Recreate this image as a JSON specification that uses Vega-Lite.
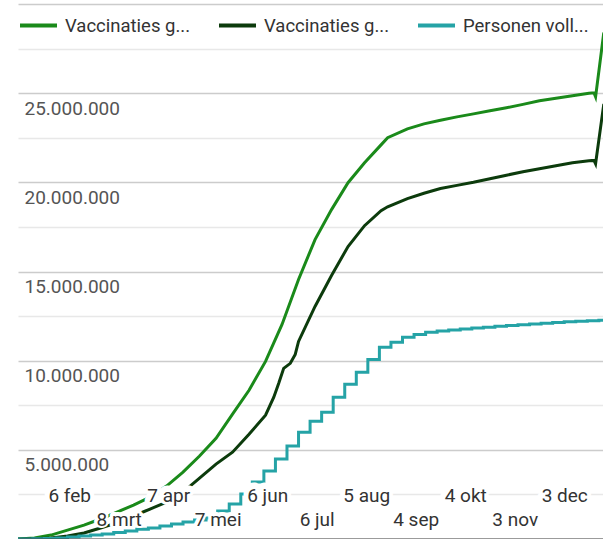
{
  "$schema": "https://vega.github.io/schema/vega-lite/v6.json",
  "width": 585,
  "height": 535,
  "autosize": {"type": "none"},
  "padding": {"left": 18, "top": 4, "right": 0, "bottom": 0},
  "background": "white",
  "config": {"view": {"stroke": null}, "font": "Roboto"},
  "datasets": {
    "g": [
      {"date": "2021-01-06", "value": 0},
      {"date": "2021-01-16", "value": 60000},
      {"date": "2021-01-26", "value": 220000},
      {"date": "2021-02-05", "value": 500000},
      {"date": "2021-02-15", "value": 780000},
      {"date": "2021-02-25", "value": 1120000},
      {"date": "2021-03-07", "value": 1510000},
      {"date": "2021-03-17", "value": 1900000},
      {"date": "2021-03-27", "value": 2350000},
      {"date": "2021-04-06", "value": 2970000},
      {"date": "2021-04-16", "value": 3750000},
      {"date": "2021-04-26", "value": 4650000},
      {"date": "2021-05-06", "value": 5650000},
      {"date": "2021-05-16", "value": 7000000},
      {"date": "2021-05-26", "value": 8340000},
      {"date": "2021-06-05", "value": 9960000},
      {"date": "2021-06-15", "value": 12030000},
      {"date": "2021-06-25", "value": 14550000},
      {"date": "2021-07-05", "value": 16790000},
      {"date": "2021-07-15", "value": 18470000},
      {"date": "2021-07-25", "value": 19980000},
      {"date": "2021-08-04", "value": 21100000},
      {"date": "2021-08-14", "value": 22100000},
      {"date": "2021-08-18", "value": 22500000},
      {"date": "2021-08-30", "value": 23000000},
      {"date": "2021-09-09", "value": 23280000},
      {"date": "2021-09-19", "value": 23480000},
      {"date": "2021-09-29", "value": 23670000},
      {"date": "2021-10-09", "value": 23840000},
      {"date": "2021-10-19", "value": 24010000},
      {"date": "2021-10-29", "value": 24180000},
      {"date": "2021-11-08", "value": 24370000},
      {"date": "2021-11-18", "value": 24570000},
      {"date": "2021-11-28", "value": 24710000},
      {"date": "2021-12-08", "value": 24850000},
      {"date": "2021-12-18", "value": 24990000},
      {"date": "2021-12-21", "value": 25020000},
      {"date": "2021-12-22", "value": 24790000},
      {"date": "2021-12-27", "value": 28400000}
    ],
    "d": [
      {"date": "2021-01-06", "value": 0},
      {"date": "2021-01-16", "value": 20000},
      {"date": "2021-01-26", "value": 60000},
      {"date": "2021-02-05", "value": 170000},
      {"date": "2021-02-15", "value": 340000},
      {"date": "2021-02-25", "value": 620000},
      {"date": "2021-03-07", "value": 900000},
      {"date": "2021-03-17", "value": 1290000},
      {"date": "2021-03-27", "value": 1680000},
      {"date": "2021-04-06", "value": 2070000},
      {"date": "2021-04-16", "value": 2630000},
      {"date": "2021-04-26", "value": 3410000},
      {"date": "2021-05-06", "value": 4200000},
      {"date": "2021-05-16", "value": 4870000},
      {"date": "2021-05-26", "value": 5880000},
      {"date": "2021-06-05", "value": 6940000},
      {"date": "2021-06-10", "value": 7950000},
      {"date": "2021-06-13", "value": 8730000},
      {"date": "2021-06-16", "value": 9570000},
      {"date": "2021-06-20", "value": 9850000},
      {"date": "2021-06-23", "value": 10350000},
      {"date": "2021-06-25", "value": 11080000},
      {"date": "2021-07-05", "value": 13040000},
      {"date": "2021-07-15", "value": 14780000},
      {"date": "2021-07-25", "value": 16400000},
      {"date": "2021-08-04", "value": 17570000},
      {"date": "2021-08-14", "value": 18410000},
      {"date": "2021-08-18", "value": 18630000},
      {"date": "2021-08-30", "value": 19090000},
      {"date": "2021-09-09", "value": 19390000},
      {"date": "2021-09-19", "value": 19650000},
      {"date": "2021-09-29", "value": 19830000},
      {"date": "2021-10-09", "value": 20000000},
      {"date": "2021-10-19", "value": 20200000},
      {"date": "2021-10-29", "value": 20400000},
      {"date": "2021-11-08", "value": 20590000},
      {"date": "2021-11-18", "value": 20760000},
      {"date": "2021-11-28", "value": 20930000},
      {"date": "2021-12-08", "value": 21100000},
      {"date": "2021-12-18", "value": 21210000},
      {"date": "2021-12-21", "value": 21230000},
      {"date": "2021-12-22", "value": 21040000},
      {"date": "2021-12-27", "value": 24400000}
    ],
    "t": [
      {"date": "2021-01-06", "value": 0},
      {"date": "2021-01-15", "value": 10000},
      {"date": "2021-01-22", "value": 30000},
      {"date": "2021-01-29", "value": 60000},
      {"date": "2021-02-05", "value": 110000},
      {"date": "2021-02-12", "value": 170000},
      {"date": "2021-02-19", "value": 220000},
      {"date": "2021-02-26", "value": 280000},
      {"date": "2021-03-05", "value": 360000},
      {"date": "2021-03-12", "value": 450000},
      {"date": "2021-03-19", "value": 550000},
      {"date": "2021-03-26", "value": 620000},
      {"date": "2021-04-02", "value": 730000},
      {"date": "2021-04-09", "value": 840000},
      {"date": "2021-04-16", "value": 950000},
      {"date": "2021-04-23", "value": 1060000},
      {"date": "2021-04-30", "value": 1180000},
      {"date": "2021-05-07", "value": 1570000},
      {"date": "2021-05-14", "value": 1960000},
      {"date": "2021-05-21", "value": 2520000},
      {"date": "2021-05-28", "value": 3190000},
      {"date": "2021-06-04", "value": 3810000},
      {"date": "2021-06-11", "value": 4480000},
      {"date": "2021-06-18", "value": 5210000},
      {"date": "2021-06-25", "value": 5990000},
      {"date": "2021-07-02", "value": 6600000},
      {"date": "2021-07-09", "value": 7110000},
      {"date": "2021-07-16", "value": 7950000},
      {"date": "2021-07-23", "value": 8680000},
      {"date": "2021-07-30", "value": 9350000},
      {"date": "2021-08-06", "value": 10070000},
      {"date": "2021-08-13", "value": 10750000},
      {"date": "2021-08-20", "value": 11030000},
      {"date": "2021-08-27", "value": 11310000},
      {"date": "2021-09-03", "value": 11470000},
      {"date": "2021-09-10", "value": 11590000},
      {"date": "2021-09-17", "value": 11660000},
      {"date": "2021-09-24", "value": 11720000},
      {"date": "2021-10-01", "value": 11780000},
      {"date": "2021-10-08", "value": 11830000},
      {"date": "2021-10-15", "value": 11880000},
      {"date": "2021-10-22", "value": 11930000},
      {"date": "2021-10-29", "value": 11970000},
      {"date": "2021-11-05", "value": 12020000},
      {"date": "2021-11-12", "value": 12060000},
      {"date": "2021-11-19", "value": 12100000},
      {"date": "2021-11-26", "value": 12140000},
      {"date": "2021-12-03", "value": 12180000},
      {"date": "2021-12-10", "value": 12210000},
      {"date": "2021-12-17", "value": 12240000},
      {"date": "2021-12-24", "value": 12260000},
      {"date": "2021-12-31", "value": 12280000}
    ],
    "xlabels": [
      {"date": "2021-02-06"},
      {"date": "2021-03-08"},
      {"date": "2021-04-07"},
      {"date": "2021-05-07"},
      {"date": "2021-06-06"},
      {"date": "2021-07-06"},
      {"date": "2021-08-05"},
      {"date": "2021-09-04"},
      {"date": "2021-10-04"},
      {"date": "2021-11-03"},
      {"date": "2021-12-03"}
    ]
  },
  "layer": [
    {
      "data": {"name": "g"},
      "transform": [{"calculate": "'Vaccinaties gezet (geschat)'", "as": "series"}],
      "mark": {"type": "line", "strokeWidth": 3, "clip": true},
      "encoding": {
        "x": {
          "field": "date",
          "type": "temporal",
          "scale": {"type": "utc", "domain": [1609891200000, 1640520000000]},
          "axis": {
            "title": null,
            "grid": false,
            "domain": true,
            "domainColor": "#444444",
            "domainWidth": 2,
            "ticks": false,
            "tickSize": 0,
            "values": [1612569600000, 1615161600000, 1617753600000, 1620345600000, 1622937600000, 1625529600000, 1628121600000, 1630713600000, 1633305600000, 1635897600000, 1638489600000],
            "labelExpr": "utcFormat(datum.value, '%-d') + ' ' + ['jan','feb','mrt','apr','mei','jun','jul','aug','sep','okt','nov','dec'][utcmonth(datum.value)]",
            "labelAlign": "center",
            "labelBaseline": "middle",
            "labelPadding": {"condition": {"test": "utcmonth(datum.value) % 2 == 1", "value": -44}, "value": -20},
            "labelFontSize": 19,
            "labelFont": "Roboto",
            "labelColor": "#333333",
            "labelOverlap": false,
            "labelFlush": false,
            "zindex": 1
          }
        },
        "y": {
          "field": "value",
          "type": "quantitative",
          "scale": {"domain": [0, 30000000], "nice": false, "zero": true},
          "axis": {
            "title": null,
            "orient": "left",
            "domain": false,
            "ticks": false,
            "tickSize": 0,
            "values": [0, 2500000, 5000000, 7500000, 10000000, 12500000, 15000000, 17500000, 20000000, 22500000, 25000000, 27500000, 30000000],
            "labelExpr": "(datum.value % 5000000 == 0 && datum.value > 0 && datum.value < 30000000) ? replace(format(datum.value, ',d'), regexp(',', 'g'), '.') : ''",
            "labelAlign": "left",
            "labelBaseline": "alphabetic",
            "labelPadding": -6,
            "labelOffset": 21,
            "labelFontSize": 19,
            "labelFont": "Roboto",
            "labelColor": "#555555",
            "labelOverlap": false,
            "labelFlush": false,
            "gridColor": {"condition": {"test": "datum.value % 5000000 == 0", "value": "#cccccc"}, "value": "#e8e8e8"},
            "gridWidth": 1.5
          }
        },
        "color": {
          "field": "series",
          "type": "nominal",
          "scale": {
            "domain": ["Vaccinaties gezet (geschat)", "Vaccinaties gemeld door GGD", "Personen volledig gevaccineerd"],
            "range": ["#1a8a1a", "#0c3b0c", "#25a3a6"]
          },
          "legend": {
            "orient": "none",
            "legendX": 0,
            "legendY": 1,
            "direction": "horizontal",
            "title": null,
            "padding": 0,
            "symbolType": "stroke",
            "symbolStrokeWidth": 4,
            "symbolSize": 1369,
            "labelFontSize": 18.5,
            "labelFont": "Roboto",
            "labelColor": "#333333",
            "labelOffset": 6,
            "columnPadding": 20,
            "labelLimit": 400,
            "labelExpr": "slice(datum.label, 0, 13) + '...'"
          }
        }
      }
    },
    {
      "data": {"name": "d"},
      "transform": [{"calculate": "'Vaccinaties gemeld door GGD'", "as": "series"}],
      "mark": {"type": "line", "strokeWidth": 3, "clip": true},
      "encoding": {
        "x": {"field": "date", "type": "temporal"},
        "y": {"field": "value", "type": "quantitative"},
        "color": {"field": "series", "type": "nominal"}
      }
    },
    {
      "data": {"name": "t"},
      "transform": [{"calculate": "'Personen volledig gevaccineerd'", "as": "series"}],
      "mark": {"type": "line", "strokeWidth": 3, "clip": true, "interpolate": "step-after"},
      "encoding": {
        "x": {"field": "date", "type": "temporal"},
        "y": {"field": "value", "type": "quantitative"},
        "color": {"field": "series", "type": "nominal"}
      }
    },
    {
      "data": {"name": "xlabels"},
      "transform": [
        {"filter": "utcmonth(datum.date) % 2 == 1"},
        {"calculate": "utcFormat(datum.date, '%-d') + ' ' + ['jan','feb','mrt','apr','mei','jun','jul','aug','sep','okt','nov','dec'][utcmonth(datum.date)]", "as": "label"}
      ],
      "mark": {"type": "text", "font": "Roboto", "fontSize": 19, "align": "center", "baseline": "middle", "fill": "white", "stroke": "white", "strokeWidth": 9, "strokeJoin": "round"},
      "encoding": {
        "x": {"field": "date", "type": "temporal"},
        "y": {"datum": 2500000},
        "text": {"field": "label"}
      }
    },
    {
      "data": {"name": "xlabels"},
      "transform": [
        {"filter": "utcmonth(datum.date) % 2 == 0"},
        {"calculate": "utcFormat(datum.date, '%-d') + ' ' + ['jan','feb','mrt','apr','mei','jun','jul','aug','sep','okt','nov','dec'][utcmonth(datum.date)]", "as": "label"}
      ],
      "mark": {"type": "text", "font": "Roboto", "fontSize": 19, "align": "center", "baseline": "middle", "fill": "white", "stroke": "white", "strokeWidth": 6, "strokeJoin": "round"},
      "encoding": {
        "x": {"field": "date", "type": "temporal"},
        "y": {"datum": 1120000},
        "text": {"field": "label"}
      }
    }
  ]
}
